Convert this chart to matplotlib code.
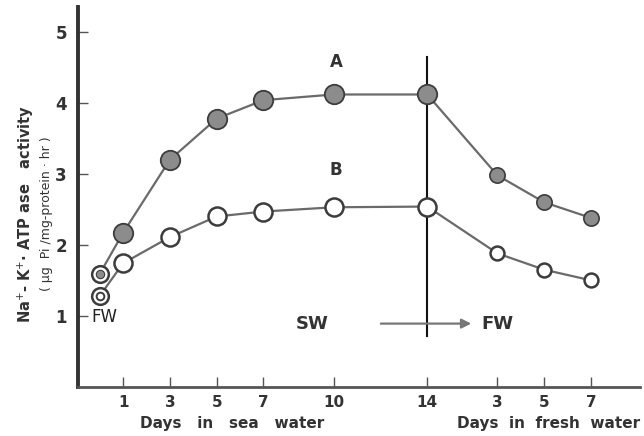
import matplotlib
matplotlib.use("Agg")
import matplotlib.pyplot as plt

# ---- data ----
sea_days = [1, 3, 5, 7, 10, 14]
fresh_days = [3, 5, 7]          # days after transfer back to fresh water
fw_day = 0
A_fw = 1.59
B_fw = 1.28
A_sea = [2.17, 3.20, 3.78, 4.04, 4.12, 4.12]
A_fresh = [2.98, 2.60, 2.38]
B_sea = [1.74, 2.11, 2.40, 2.47, 2.53, 2.54]
B_fresh = [1.88, 1.65, 1.50]
y_ticks = [1, 2, 3, 4, 5]
x_tick_labels = ["1", "3", "5", "7", "10", "14", "3", "5", "7"]
transfer_day = 14

fresh_x = [transfer_day + d for d in fresh_days]
x_ticks = [1, 3, 5, 7, 10, 14] + fresh_x

fig = plt.figure(figsize=(6.44, 4.36), dpi=100)
ax = fig.add_axes([0.121, 0.113, 0.873, 0.872])
ax.set_xlim(-0.93, 23.1)
ax.set_ylim(0, 5.36)

line_c = "#6a6a6a"
fill_c = "#8c8c8c"
edge_c = "#3c3c3c"

# lines
A_x = [fw_day] + sea_days + fresh_x
A_y = [A_fw] + A_sea + A_fresh
B_x = [fw_day] + sea_days + fresh_x
B_y = [B_fw] + B_sea + B_fresh
ax.plot(A_x, A_y, color=line_c, lw=1.6, zorder=2)
ax.plot(B_x, B_y, color=line_c, lw=1.6, zorder=2)

# vertical transfer line
ax.plot([transfer_day, transfer_day], [0.71, 4.65], color="#111111", lw=1.5, zorder=1)

# markers A
ax.plot(sea_days, A_sea, "o", ms=14, mfc=fill_c, mec=edge_c, mew=1.3, zorder=4)
ax.plot(fresh_x, A_fresh, "o", ms=11, mfc=fill_c, mec=edge_c, mew=1.2, zorder=4)
# markers B
ax.plot(sea_days, B_sea, "o", ms=13, mfc="white", mec=edge_c, mew=1.8, zorder=4)
ax.plot(fresh_x, B_fresh, "o", ms=10, mfc="white", mec=edge_c, mew=1.8, zorder=4)
# FW double-ring markers
ax.plot([fw_day], [A_fw], "o", ms=12, mfc="white", mec=edge_c, mew=1.8, zorder=5)
ax.plot([fw_day], [A_fw], "o", ms=6, mfc=fill_c, mec=edge_c, mew=0.8, zorder=6)
ax.plot([fw_day], [B_fw], "o", ms=12, mfc="white", mec=edge_c, mew=1.8, zorder=5)
ax.plot([fw_day], [B_fw], "o", ms=5.5, mfc="white", mec=edge_c, mew=1.4, zorder=6)

# axes styling
for s in ["top", "right"]:
    ax.spines[s].set_visible(False)
ax.spines["left"].set_linewidth(2.8)
ax.spines["left"].set_color("#333333")
ax.spines["bottom"].set_linewidth(2.0)
ax.spines["bottom"].set_color("#555555")

ax.set_yticks(y_ticks)
ax.set_yticklabels([str(v) for v in y_ticks], fontsize=12, fontweight="bold", color="#333333")
ax.set_xticks(x_ticks)
ax.set_xticklabels(x_tick_labels, fontsize=11, fontweight="bold", color="#333333")
ax.tick_params(axis="both", direction="in", length=7, width=1, color="#555555")
ax.tick_params(axis="y", pad=8)
ax.tick_params(axis="x", pad=6)

# text labels
tf = dict(fontweight="bold", color="#333333")
ax.text(10.1, 4.58, "A", fontsize=12, ha="center", va="center", **tf)
ax.text(10.1, 3.06, "B", fontsize=12, ha="center", va="center", **tf)
ax.text(0.2, 0.99, "FW", fontsize=12, ha="center", va="center", color="#222222")
ax.text(9.1, 0.89, "SW", fontsize=13, ha="center", va="center", **tf)
ax.text(17.0, 0.89, "FW", fontsize=13, ha="center", va="center", **tf)
ax.annotate("", xy=(16.0, 0.89), xytext=(11.9, 0.89),
            arrowprops=dict(arrowstyle="-|>", color="#777777", lw=1.6,
                            mutation_scale=14))

fig.text(0.36, 0.028, "Days   in   sea   water", fontsize=11, ha="center", va="center", **tf)
fig.text(0.852, 0.028, "Days  in  fresh  water", fontsize=11, ha="center", va="center", **tf)

fig.text(0.040, 0.51, "Na$^{+}$- K$^{+}$· ATP ase   activity", fontsize=10.5, rotation=90,
         ha="center", va="center", **tf)
fig.text(0.072, 0.51, "( \u03bcg  Pi /mg-protein · hr )", fontsize=9, rotation=90,
         ha="center", va="center", color="#333333")

fig.savefig("out.png", dpi=100)
